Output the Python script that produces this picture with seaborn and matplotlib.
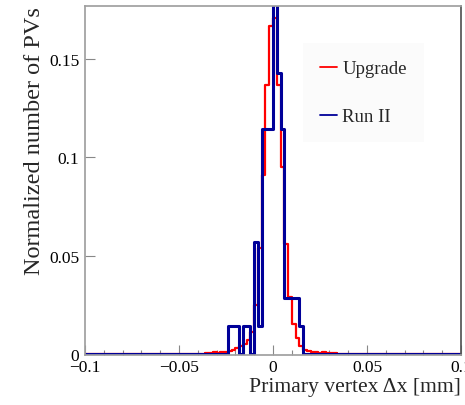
import numpy as np
import pandas as pd
import seaborn as sns
import matplotlib.pyplot as plt
from matplotlib.lines import Line2D
from matplotlib.ticker import MultipleLocator

# --- binning: 0.002 mm bins over the full range ---
bin_edges = [round(-0.1 + 0.002 * i, 4) for i in range(101)]

# --- Upgrade (red), left bin edge [mm] and normalized height ---
upgrade_left = [-0.036, -0.034, -0.032, -0.030, -0.028, -0.026, -0.024, -0.022,
                -0.020, -0.018, -0.016, -0.014, -0.012, -0.010, -0.008, -0.006,
                -0.004, -0.002, 0.000, 0.002, 0.004, 0.006, 0.008, 0.010,
                0.012, 0.014, 0.016, 0.018, 0.020, 0.022, 0.024, 0.026,
                0.028, 0.030, 0.032]
upgrade_height = [0.0005, 0.0005, 0.001, 0.0005, 0.001, 0.001, 0.0015, 0.002,
                  0.003, 0.004, 0.005, 0.007, 0.011, 0.025, 0.054, 0.091,
                  0.137, 0.167, 0.171, 0.137, 0.095, 0.056, 0.029, 0.015,
                  0.008, 0.004, 0.002, 0.0015, 0.001, 0.001, 0.0005, 0.001,
                  0.0005, 0.0005, 0.0005]

# --- Run II (blue) ---
run2_left = [-0.024, -0.022, -0.020, -0.016, -0.014, -0.010, -0.008, -0.006,
             -0.004, -0.002, 0.000, 0.002, 0.004, 0.006, 0.008, 0.010,
             0.012, 0.014]
run2_height = [0.0143, 0.0143, 0.0143, 0.0143, 0.0143, 0.0571, 0.0143, 0.1143,
               0.1143, 0.1143, 0.2000, 0.1429, 0.1143, 0.0286, 0.0286, 0.0286,
               0.0286, 0.0143]

series_labels = ["Upgrade", "Run II"]
series_colors = ["#ff0000", "#000099"]

df_up = pd.DataFrame({"dx": np.array(upgrade_left) + 0.001, "w": upgrade_height})
df_r2 = pd.DataFrame({"dx": np.array(run2_left) + 0.001, "w": run2_height})

sns.set_theme(style="ticks")
plt.rcParams['font.family'] = ['Liberation Serif', 'DejaVu Serif']
plt.rcParams['axes.unicode_minus'] = True

fig = plt.figure(figsize=(4.65, 4.06), dpi=100)
ax = fig.add_axes([85 / 465, 1 - 356 / 406, (461 - 85) / 465, (356 - 7) / 406])

sns.histplot(data=df_up, x="dx", weights="w", bins=bin_edges,
             element="step", fill=False, color=series_colors[0], linewidth=1.6, ax=ax)
sns.histplot(data=df_r2, x="dx", weights="w", bins=bin_edges,
             element="step", fill=False, color=series_colors[1], linewidth=2.2, ax=ax)

ax.set_xlim(-0.1, 0.1)
ax.set_ylim(-0.0006, 0.177)

ax.set_xticks([-0.1, -0.05, 0, 0.05, 0.1])
ax.set_xticklabels(["\u22120.1", "\u22120.05", "0", "0.05", "0.1"])
ax.xaxis.set_minor_locator(MultipleLocator(0.01))
ax.set_yticks([0, 0.05, 0.1, 0.15])
ax.set_yticklabels(["0", "0.05", "0.1", "0.15"])

ax.tick_params(axis='both', which='both', direction='in', colors='#888888',
               labelcolor='black', labelsize=12.5)
ax.tick_params(axis='x', which='major', length=7, width=0.8, pad=3)
ax.tick_params(axis='x', which='minor', length=3.5, width=0.8)
ax.tick_params(axis='y', which='major', length=7, width=0.8, pad=4)

for side in ['left', 'top', 'bottom']:
    ax.spines[side].set_color('#a0a0a0')
    ax.spines[side].set_visible(True)
ax.spines['right'].set_visible(True)
ax.spines['right'].set_color('#555555')

ax.set_xlabel("Primary vertex \u0394x [mm]", loc="right", fontsize=15.6, labelpad=1)
ax.set_ylabel("Normalized number of PVs", loc="top", fontsize=17.5, labelpad=3)

handles = [Line2D([0], [0], color=c, lw=1.3) for c in series_colors]
leg = ax.legend(handles, series_labels, loc="upper left", bbox_to_anchor=(0.555, 0.92),
                fontsize=13.5, frameon=True, facecolor='#fbfbfb', edgecolor='none',
                framealpha=1, fancybox=False, handlelength=0.9, handletextpad=0.3,
                labelspacing=1.65, borderpad=0.9)

fig.savefig("out.png", dpi=100)
